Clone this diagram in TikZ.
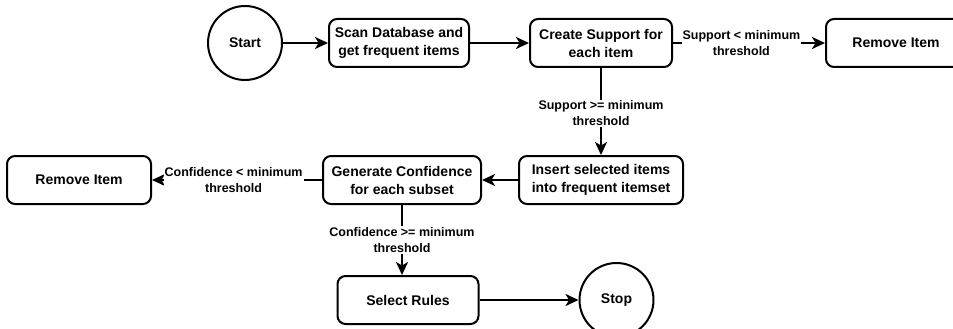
\documentclass[tikz,border=0pt]{standalone}
\usepackage{fontspec}
\setmainfont{Liberation Sans}
\usepackage{tikz}
\usetikzlibrary{positioning,arrows.meta}
\tikzset{
		stepbox/.style={draw, line width=2pt, rounded corners=8pt, minimum height=48pt,
			align=center, font=\fontsize{14}{18}\selectfont\bfseries},
		endpoint/.style={draw, circle, line width=2pt, minimum size=74pt,
			font=\fontsize{14}{18}\selectfont\bfseries},
		flow/.style={line width=2pt, -{Stealth[length=13pt,width=12pt,inset=3.5pt]}},
		condlabel/.style={fill=white, align=center, inner sep=1pt,
			font=\fontsize{12.5}{16}\selectfont\bfseries},
		}

\begin{document}
\begin{tikzpicture}[x=1pt,y=-1pt]
					\useasboundingbox (0,0) rectangle (953,329);
					%NODES first row
					\node[endpoint](start) at (245,43){Start};
					\node[stepbox,minimum width=140pt](scan)[right=45pt of start]{Scan Database and\\get frequent items};
					\node[stepbox,minimum width=142pt](support)[right=59pt of scan]{Create Support for\\each item};
					\node[stepbox,minimum width=140pt](dropitem)[right=152pt of support]{Remove Item};
					%NODES second row
					\node[stepbox,minimum width=164pt](insert)[below=87pt of support]{Insert selected items\\into frequent itemset};
					\node[stepbox,minimum width=158pt](confidence)[left=36pt of insert]{Generate Confidence\\for each subset};
					\node[stepbox,minimum width=144pt](droprule)[left=170pt of confidence]{Remove Item};
					%NODES third row
					\node[stepbox,minimum width=141pt](select)[below=70pt of confidence, xshift=6pt]{Select Rules};
					\node[endpoint](stop)[right=99pt of select]{Stop};
					%PATHS
					\draw[flow] (start) -- (scan);
					\draw[flow] (scan) -- (support);
					\draw[flow] (support) -- node[condlabel,pos=0.45]{Support < minimum\\threshold} (dropitem);
					\draw[flow] (support) -- node[condlabel,pos=0.52]{Support >= minimum\\threshold} (insert);
					\draw[flow] (insert) -- (confidence);
					\draw[flow] (confidence) -- node[condlabel,pos=0.52]{Confidence < minimum\\threshold} (droprule);
					\draw[flow] (confidence.south) -- node[condlabel]{Confidence >= minimum\\threshold} (confidence.south |- select.north);
					\draw[flow] (select) -- (stop);
				\end{tikzpicture}
\end{document}
